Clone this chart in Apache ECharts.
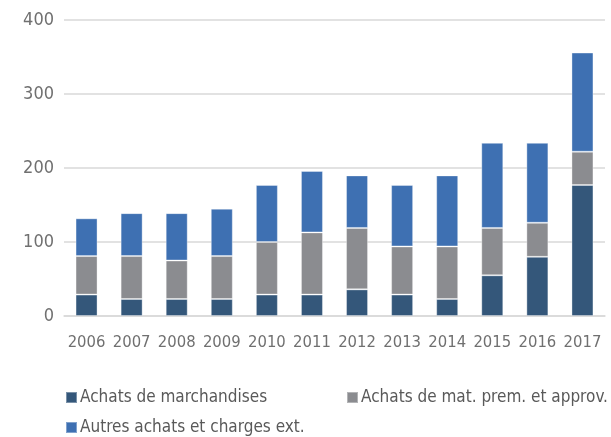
<!DOCTYPE html>
<html>
<head>
<meta charset="utf-8">
<script src="https://cdn.jsdelivr.net/npm/echarts@6/dist/echarts.min.js"></script>
<style>
  html, body { margin: 0; padding: 0; background: #fff; }
  #chart { width: 611px; height: 437px; }
</style>
</head>
<body>
<div id="chart"></div>
<script>

// données
const years = ['2006', '2007', '2008', '2009', '2010', '2011', '2012', '2013', '2014', '2015', '2016', '2017'];

const marchandises = [29, 23, 23, 23, 29, 29, 36, 29, 23, 55, 80, 177];
const matPrem = [52, 58, 52, 58, 71, 84, 83, 65, 71, 64, 46, 45];
const autresAchats = [51, 58, 64, 64, 77, 83, 71, 83, 96, 115, 108, 134];

const yTicks = [0, 100, 200, 300, 400];

const names = ['Achats de marchandises', 'Achats de mat. prem. et approv.', 'Autres achats et charges ext.'];
const colors = ['#34577a', '#8b8c90', '#3e70b2'];

const font = "'Liberation Sans Narrow', 'DejaVu Sans Condensed', 'Liberation Sans', sans-serif";

const chart = echarts.init(document.getElementById('chart'), null, { renderer: 'canvas' });

function bar(name, data, color) {
    return {
        name: name,
        type: 'bar',
        stack: 'total',
        data: data,
        barWidth: 22,
        itemStyle: {
            color: color,
            borderColor: 'rgba(255,255,255,0.35)',
            borderWidth: 1,
        },
    };
}

function legendAt(name, left, top) {
    return {
        data: [name],
        left: left,
        top: top,
        itemWidth: 11,
        itemHeight: 11,
        itemGap: 0,
        icon: 'rect',
        selectedMode: false,
        textStyle: { fontFamily: font, fontSize: 17, color: '#595959', padding: [0, 0, 0, -2] },
    };
}

const option = {
    animation: false,
    color: colors,
    grid: {
        left: 64,
        right: 6,
        top: 20,
        bottom: 121,
    },
    legend: [
        legendAt(names[0], 60, 384),
        legendAt(names[1], 341, 384),
        legendAt(names[2], 60, 414),
    ],
    xAxis: {
        type: 'category',
        data: years,
        axisLine: { lineStyle: { color: '#d9d9d9', width: 1.5 } },
        axisTick: { show: false },
        axisLabel: {
            interval: 0,
            fontFamily: font,
            fontSize: 16.5,
            color: '#707070',
            margin: 18,
        },
    },
    yAxis: {
        type: 'value',
        min: yTicks[0],
        max: yTicks[yTicks.length - 1],
        interval: 100,
        axisLine: { show: false },
        axisTick: { show: false },
        splitLine: { lineStyle: { color: '#d9d9d9', width: 1.5 } },
        axisLabel: {
            fontFamily: font,
            fontSize: 18,
            color: '#707070',
            margin: 10,
        },
    },
    series: [
        bar(names[0], marchandises, colors[0]),
        bar(names[1], matPrem, colors[1]),
        bar(names[2], autresAchats, colors[2]),
    ],
};

option && chart.setOption(option);

</script>
</body>
</html>
